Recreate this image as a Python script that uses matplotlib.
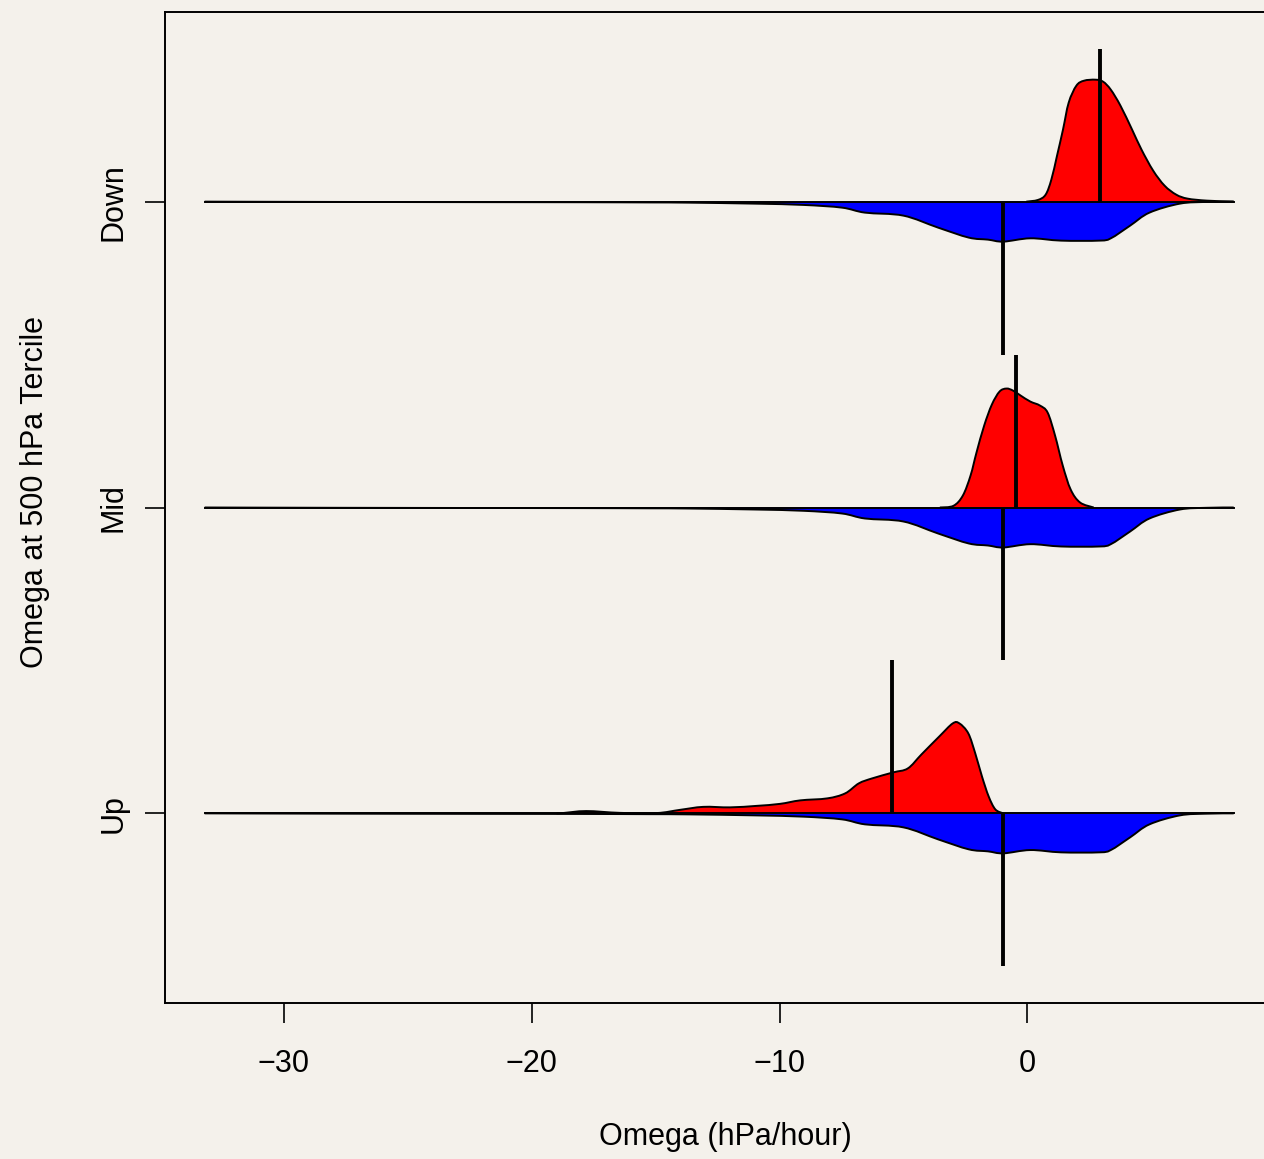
import numpy as np
import matplotlib
matplotlib.use("Agg")
import matplotlib.pyplot as plt
from matplotlib.path import Path
from matplotlib.patches import PathPatch

plt.rcParams["font.family"] = ["Liberation Sans", "DejaVu Sans"]

# groups (bottom to top) and their y positions
groups = ["Up", "Mid", "Down"]
positions = [1, 2, 3]

# blue half (same reference distribution in every row): omega values and density heights
blue_x = [-33.2, -28.0, -22.0, -18.0, -15.2, -13.7, -11.0, -9.03, -7.48, -6.55, -5.0,
          -3.6, -2.36, -1.59, -0.97, 0.12, 1.36, 2.91, 3.37, 4.15, 4.93, 6.16, 7.25, 8.33]
blue_h = [0.0, 0.3, 0.5, 0.6, 0.8, 1.0, 2.0, 3.3, 6.0, 11.0, 14.0,
          26.0, 36.0, 38.0, 40.0, 36.7, 39.0, 39.0, 36.7, 24.0, 11.0, 2.0, 0.3, 0.0]
blue_median = -0.97

# red halves, one per tercile
red_up_x = [-19.0, -18.75, -17.8, -16.44, -14.96, -14.02, -13.08, -12.0, -10.92, -9.98,
            -9.16, -8.07, -7.35, -6.8, -6.26, -5.41, -4.82, -4.27, -3.55, -3.01, -2.74,
            -2.38, -2.1, -1.83, -1.56, -1.29, -0.97]
red_up_h = [0.0, 0.3, 2.3, 0.5, 0.3, 3.5, 6.5, 6.0, 7.5, 9.5,
            13.0, 15.0, 20.0, 30.0, 35.0, 41.0, 45.0, 59.0, 77.0, 90.0, 90.0,
            80.0, 60.0, 37.0, 17.0, 4.0, 0.0]
red_mid_x = [-3.53, -2.98, -2.6, -2.29, -2.05, -1.74, -1.43, -1.12, -0.84, -0.58, -0.27,
             0.12, 0.51, 0.82, 1.12, 1.43, 1.75, 2.13, 2.68]
red_mid_h = [0.0, 1.7, 12.0, 32.0, 55.0, 82.0, 103.0, 116.0, 119.0, 117.0, 112.0,
             106.0, 102.0, 95.0, 72.0, 42.0, 18.0, 5.0, 0.0]
red_down_x = [-0.04, 0.43, 0.74, 0.97, 1.2, 1.44, 1.67, 1.98, 2.29, 2.75, 3.06, 3.37,
              3.76, 4.23, 4.61, 5.08, 5.54, 6.01, 6.47, 7.25, 8.33]
red_down_h = [0.0, 1.7, 7.0, 22.0, 46.0, 72.0, 99.0, 116.0, 121.0, 122.0, 120.0, 112.0,
              96.0, 72.0, 52.0, 31.0, 16.0, 7.0, 3.0, 1.0, 0.0]
red_medians = [-5.45, -0.45, 2.95]

xticks = [-30, -20, -10, 0]
xtick_labels = ["\u221230", "\u221220", "\u221210", "0"]

red_x = [red_up_x, red_mid_x, red_down_x]
red_h = [red_up_h, red_mid_h, red_down_h]

bg = "#f4f1eb"
scale = 1 / 306.0      # density units -> y units
med_len = 0.5


def curve_path(x, y, close_y=None):
    # smooth bezier (catmull-rom) through the read points
    p = np.column_stack([x, y])
    n = len(p)
    verts = [p[0]]
    codes = [Path.MOVETO]
    for i in range(n - 1):
        p0 = p[max(i - 1, 0)]
        p1, p2 = p[i], p[i + 1]
        p3 = p[min(i + 2, n - 1)]
        verts += [p1 + (p2 - p0) / 6, p2 - (p3 - p1) / 6, p2]
        codes += [Path.CURVE4] * 3
    if close_y is not None:
        verts += [(x[-1], close_y), (x[0], close_y), p[0]]
        codes += [Path.LINETO, Path.LINETO, Path.CLOSEPOLY]
    return Path(verts, codes)


fig = plt.figure(figsize=(12.64, 11.59), dpi=100, facecolor=bg)
ax = fig.add_axes([165 / 1264, 1 - 1003 / 1159, 1120 / 1264, 991 / 1159])
ax.set_facecolor(bg)

bx = np.array(blue_x)
bh = np.array(blue_h) * scale
for i, y0 in enumerate(positions):
    rx = np.array(red_x[i])
    rh = np.array(red_h[i]) * scale
    ax.add_patch(PathPatch(curve_path(bx, y0 - bh, y0), fc="blue", lw=0, zorder=1))
    ax.add_patch(PathPatch(curve_path(rx, y0 + rh, y0), fc="red", lw=0, zorder=1))
    ax.plot([bx[0], bx[-1]], [y0, y0], color="black", lw=1.4, zorder=2)
    ax.add_patch(PathPatch(curve_path(bx, y0 - bh), fill=False, ec="black", lw=1.4, zorder=2))
    ax.add_patch(PathPatch(curve_path(rx, y0 + rh), fill=False, ec="black", lw=1.4, zorder=2))
    ax.plot([red_medians[i]] * 2, [y0, y0 + med_len], color="black", lw=2.8,
            solid_capstyle="butt", zorder=3)
    ax.plot([blue_median] * 2, [y0, y0 - med_len], color="black", lw=2.8,
            solid_capstyle="butt", zorder=3)

ax.set_xlim(-34.8, 10.4)
ax.set_ylim(0.38, 3.62)
ax.set_xticks(xticks)
ax.set_xticklabels(xtick_labels, fontsize=22)
ax.set_yticks(positions)
ax.set_yticklabels(groups, fontsize=22, rotation=90, va="center")
ax.tick_params(axis="x", length=14.4, width=1.2, pad=19)
ax.tick_params(axis="y", length=14.4, width=1.2, pad=12)
for s in ax.spines.values():
    s.set_linewidth(1.4)

fig.text(725 / 1264, 1 - 1137 / 1159, "Omega (hPa/hour)", fontsize=22,
         ha="center", va="center")
fig.text(35 / 1264, 1 - 492 / 1159, "Omega at 500 hPa Tercile", fontsize=22,
         ha="center", va="center", rotation=90)

fig.savefig("out.png", dpi=100, facecolor=bg)
